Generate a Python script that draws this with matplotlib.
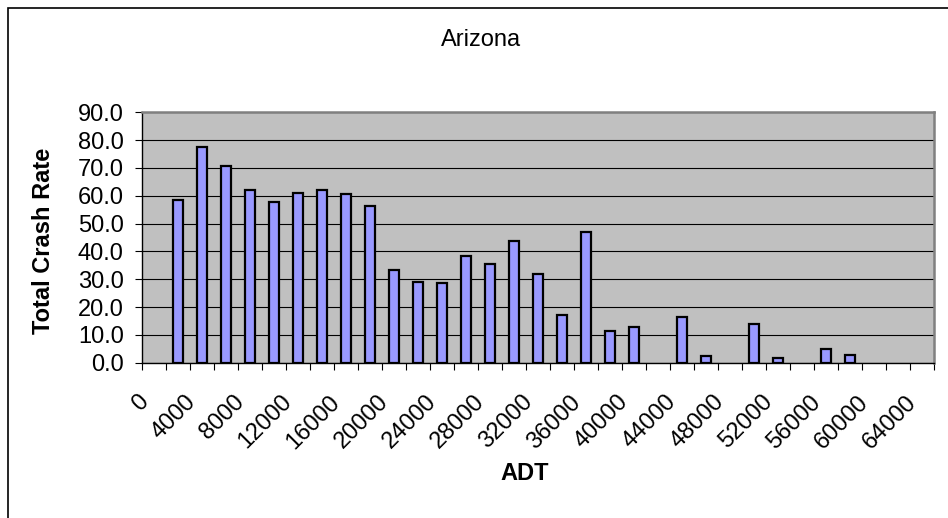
import matplotlib
matplotlib.use("Agg")
import matplotlib.pyplot as plt
from matplotlib.patches import Rectangle
from matplotlib.transforms import ScaledTranslation
import numpy as np

plt.rcParams['font.family'] = ['Liberation Sans', 'DejaVu Sans']

# Data
adt_categories = list(range(0, 66000, 2000))  # 0 .. 64000, 33 bins
crash_rate = [0, 58.3, 77.4, 70.8, 62.0, 57.6, 61.0, 62.2, 60.6, 56.5,
              33.4, 29.0, 28.7, 38.2, 35.6, 43.6, 31.8, 17.0, 47.0, 11.3,
              12.7, 0, 16.3, 2.4, 0, 13.8, 1.7, 0, 4.9, 2.8,
              0, 0, 0]
tick_labels = [str(v) for v in adt_categories[::2]]
y_ticks = [0, 10, 20, 30, 40, 50, 60, 70, 80, 90]

W, H = 948, 518
fig = plt.figure(figsize=(W / 100, H / 100), dpi=100)
fig.patch.set_facecolor('white')

# Chart area border
fig.add_artist(Rectangle((8 / W, -0.1), 1.2, (H - 8) / H + 0.1, transform=fig.transFigure,
                         fill=False, edgecolor='black', linewidth=1.2))

left, right = 141.7 / W, 934 / W
bottom, top = 1 - 362.7 / H, 1 - 112.3 / H
ax = fig.add_axes([left, bottom, right - left, top - bottom])
ax.set_facecolor('#C0C0C0')

n = len(adt_categories)
x = np.arange(n) + 0.5
vals = np.array(crash_rate)
mask = vals > 0
ax.bar(x[mask], vals[mask], width=0.42, color='#9999FF', edgecolor='black',
       linewidth=1.6, zorder=3)

ax.set_xlim(0, n)
ax.set_ylim(0, 90)
ax.set_yticks(y_ticks)
ax.set_yticklabels([f"{v:.1f}" for v in y_ticks], fontsize=17)
ax.yaxis.grid(True, color='black', linewidth=0.8, zorder=1)
ax.set_axisbelow(True)

ax.set_xticks(np.arange(n + 1))
ax.set_xticklabels([])
ax.set_xticks(x[::2], minor=True)
ax.set_xticklabels(tick_labels, minor=True, rotation=45, ha='right', va='center',
                   rotation_mode='anchor', fontsize=17)
ax.tick_params(axis='x', which='major', direction='out', length=5, width=0.8, color='black')
ax.tick_params(axis='x', which='minor', length=0, pad=26)
ax.tick_params(axis='y', direction='out', length=5, width=0.8, pad=8)

shift = ScaledTranslation(-9 / 100, 0, fig.dpi_scale_trans)
for lbl in ax.get_xticklabels(minor=True):
    lbl.set_transform(lbl.get_transform() + shift)

for s in ['top', 'right']:
    ax.spines[s].set_color('#808080')
    ax.spines[s].set_linewidth(1.8)
for s in ['left', 'bottom']:
    ax.spines[s].set_color('black')
    ax.spines[s].set_linewidth(1.0)

fig.text(481 / W, 1 - 40 / H, 'Arizona', ha='center', va='center', fontsize=17)
fig.text(525 / W, 1 - 474 / H, 'ADT', ha='center', va='center', fontsize=17, fontweight='bold')
fig.text(44 / W, 1 - 241 / H, 'Total Crash Rate', ha='center', va='center', fontsize=17,
         fontweight='bold', rotation=90)

fig.savefig('out.png', dpi=100)
